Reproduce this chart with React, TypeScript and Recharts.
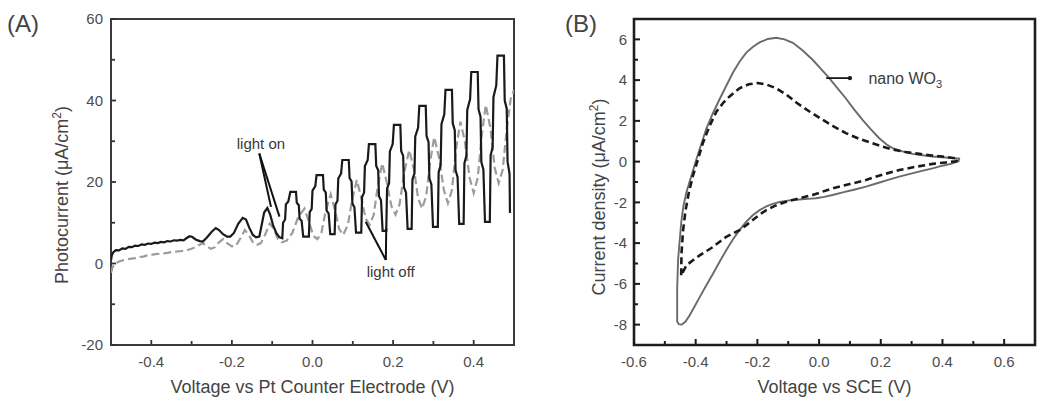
import React from "react";
import {
  LineChart,
  Line,
  XAxis,
  YAxis,
  ReferenceArea,
  ReferenceLine,
  ReferenceDot,
} from "recharts";

type Pt = [number, number];

// (A) chopped-light sweep: voltage (V) vs photocurrent (µA/cm²)
const chopSolid: Pt[] = [
  [-0.5, 0.8], [-0.498, 2.0], [-0.494, 2.8], [-0.488, 3.3], [-0.48, 3.2], [-0.472, 3.7],
  [-0.464, 3.6], [-0.456, 4.1], [-0.448, 4.0], [-0.44, 4.4], [-0.432, 4.3], [-0.424, 4.7],
  [-0.416, 4.6], [-0.408, 4.9], [-0.4, 4.8], [-0.392, 5.1], [-0.384, 5.0], [-0.376, 5.3],
  [-0.368, 5.2], [-0.36, 5.5], [-0.352, 5.4], [-0.344, 5.7], [-0.336, 5.6], [-0.328, 5.8],
  [-0.32, 5.7], [-0.313, 6.2], [-0.305, 6.7], [-0.298, 6.5], [-0.29, 5.9], [-0.28, 5.5],
  [-0.272, 5.4], [-0.262, 6.4], [-0.25, 7.8], [-0.24, 8.7], [-0.232, 8.2], [-0.222, 7.2],
  [-0.212, 6.6], [-0.204, 6.6], [-0.195, 7.5], [-0.184, 9.8], [-0.173, 11.2], [-0.165, 10.8],
  [-0.157, 8.8], [-0.148, 7.0], [-0.14, 6.4], [-0.132, 6.6], [-0.126, 9.5], [-0.12, 12.5],
  [-0.112, 13.6], [-0.105, 12.0], [-0.098, 9.5], [-0.09, 7.5], [-0.082, 6.4], [-0.075, 6.2],
  [-0.073, 10.0], [-0.068, 10.8], [-0.066, 14.5], [-0.06, 15.2], [-0.055, 17.6],
  [-0.041, 17.6], [-0.039, 14.9], [-0.034, 14.3], [-0.032, 11.0], [-0.027, 10.5], [-0.023, 6.6],
  [-0.009, 6.6], [-0.007, 12.6], [-0.002, 13.4], [0.0, 17.9], [0.007, 19.0], [0.01, 21.7],
  [0.026, 21.7], [0.028, 18.1], [0.033, 17.4], [0.035, 13.0], [0.04, 12.3], [0.044, 7.2],
  [0.055, 7.2], [0.057, 14.5], [0.062, 15.4], [0.064, 20.9], [0.071, 22.1], [0.074, 25.4],
  [0.09, 25.4], [0.092, 21.0], [0.097, 20.1], [0.099, 14.7], [0.104, 13.8], [0.108, 7.6],
  [0.121, 7.6], [0.123, 16.3], [0.128, 17.4], [0.13, 23.9], [0.137, 25.4], [0.14, 29.3],
  [0.156, 29.3], [0.158, 24.0], [0.163, 22.9], [0.165, 16.5], [0.17, 15.5], [0.174, 8.0],
  [0.183, 8.0], [0.185, 18.4], [0.19, 19.7], [0.192, 27.5], [0.199, 29.3], [0.202, 34.0],
  [0.218, 34.0], [0.22, 27.6], [0.225, 26.4], [0.227, 18.7], [0.232, 17.4], [0.236, 8.5],
  [0.246, 8.5], [0.248, 20.6], [0.253, 22.1], [0.255, 31.2], [0.262, 33.3], [0.265, 38.7],
  [0.281, 38.7], [0.283, 31.3], [0.288, 29.8], [0.29, 20.9], [0.295, 19.4], [0.299, 9.0],
  [0.311, 9.0], [0.313, 22.4], [0.318, 24.1], [0.32, 34.2], [0.327, 36.6], [0.33, 42.6],
  [0.346, 42.6], [0.348, 34.4], [0.353, 32.7], [0.355, 22.9], [0.36, 21.2], [0.364, 9.7],
  [0.375, 9.7], [0.377, 24.6], [0.382, 26.5], [0.384, 37.7], [0.391, 40.3], [0.394, 47.0],
  [0.41, 47.0], [0.412, 37.8], [0.417, 36.0], [0.419, 24.9], [0.424, 23.1], [0.428, 10.2],
  [0.44, 10.2], [0.442, 26.5], [0.447, 28.6], [0.449, 40.8], [0.456, 43.7], [0.459, 51.0],
  [0.475, 51.0], [0.477, 40.0], [0.482, 38.0], [0.484, 25.0], [0.489, 22.0], [0.49, 12.4],
];

const chopDashed: Pt[] = [
  [-0.5, -2.3], [-0.496, -0.9], [-0.49, 0.0], [-0.48, 0.5], [-0.47, 0.8], [-0.46, 1.0],
  [-0.45, 1.2], [-0.44, 1.3], [-0.43, 1.6], [-0.42, 1.7], [-0.41, 2.0], [-0.4, 2.1],
  [-0.39, 2.3], [-0.38, 2.4], [-0.37, 2.5], [-0.36, 2.6], [-0.35, 2.8], [-0.34, 2.9],
  [-0.33, 3.0], [-0.32, 3.1], [-0.31, 3.3], [-0.3, 3.6], [-0.29, 4.0], [-0.28, 4.6],
  [-0.272, 5.0], [-0.262, 4.2], [-0.252, 3.6], [-0.242, 4.0], [-0.232, 5.2], [-0.222, 6.0],
  [-0.212, 5.0], [-0.2, 4.2], [-0.19, 4.4], [-0.18, 6.0], [-0.168, 8.2], [-0.158, 7.0],
  [-0.148, 5.2], [-0.138, 4.6], [-0.128, 5.0], [-0.118, 7.0], [-0.106, 9.8], [-0.096, 8.5],
  [-0.086, 6.0], [-0.076, 5.2], [-0.064, 5.6], [-0.05, 7.5], [-0.035, 11.5], [-0.02, 13.5],
  [-0.008, 10.0], [0.002, 6.8], [0.012, 6.0], [0.022, 7.5], [0.032, 12.5], [0.045, 17.0],
  [0.056, 13.0], [0.066, 8.5], [0.076, 7.0], [0.088, 9.5], [0.098, 15.5], [0.11, 20.5],
  [0.12, 16.5], [0.132, 11.0], [0.142, 9.5], [0.152, 12.0], [0.162, 19.0], [0.173, 24.6],
  [0.184, 20.0], [0.196, 14.0], [0.206, 12.0], [0.216, 14.5], [0.228, 22.5], [0.24, 27.8],
  [0.252, 23.0], [0.262, 16.0], [0.272, 13.5], [0.282, 16.5], [0.292, 25.0], [0.302, 31.0],
  [0.314, 26.0], [0.326, 18.0], [0.336, 14.8], [0.346, 18.0], [0.356, 28.0], [0.367, 34.8],
  [0.378, 30.0], [0.39, 21.0], [0.4, 17.3], [0.41, 21.0], [0.42, 31.5], [0.43, 38.9],
  [0.442, 33.0], [0.452, 23.5], [0.462, 19.7], [0.472, 23.0], [0.482, 33.0], [0.492, 40.5],
  [0.5, 42.6],
];

// (B) cyclic voltammograms: voltage vs SCE (V) vs current density (µA/cm²)
const cvNano: Pt[] = [
  [-0.46, -6.2], [-0.457, -4.8], [-0.452, -3.9], [-0.447, -3.0], [-0.44, -2.2], [-0.43, -1.5],
  [-0.42, -1.0], [-0.41, -0.5], [-0.398, 0.1], [-0.383, 0.8], [-0.366, 1.6], [-0.345, 2.35],
  [-0.323, 3.05], [-0.3, 3.75], [-0.28, 4.35], [-0.258, 4.9], [-0.236, 5.35], [-0.215, 5.63],
  [-0.193, 5.85], [-0.166, 6.02], [-0.139, 6.08], [-0.112, 6.0], [-0.085, 5.83], [-0.053, 5.45],
  [-0.021, 5.0], [0.006, 4.55], [0.033, 4.1], [0.06, 3.6], [0.087, 3.1], [0.114, 2.55],
  [0.141, 2.05], [0.168, 1.58], [0.195, 1.15], [0.218, 0.85], [0.238, 0.66], [0.27, 0.5],
  [0.303, 0.38], [0.335, 0.31], [0.368, 0.25], [0.41, 0.2], [0.454, 0.15],
  [0.452, 0.02], [0.43, -0.1], [0.4, -0.2], [0.368, -0.33], [0.33, -0.47], [0.295, -0.6],
  [0.26, -0.74], [0.224, -0.9], [0.188, -1.06], [0.152, -1.23], [0.116, -1.37], [0.08, -1.5],
  [0.044, -1.64], [0.017, -1.73], [-0.01, -1.8], [-0.037, -1.83], [-0.064, -1.86], [-0.096, -1.9],
  [-0.128, -1.98], [-0.15, -2.07], [-0.171, -2.2], [-0.193, -2.38], [-0.215, -2.63], [-0.236, -2.95],
  [-0.258, -3.36], [-0.28, -3.83], [-0.301, -4.35], [-0.322, -4.9], [-0.344, -5.5], [-0.366, -6.08],
  [-0.387, -6.65], [-0.405, -7.15], [-0.42, -7.55], [-0.433, -7.85], [-0.445, -8.0], [-0.455, -7.98],
  [-0.46, -7.85], [-0.46, -6.2],
];

const cvDashed: Pt[] = [
  [-0.447, -5.58], [-0.446, -4.5], [-0.441, -3.4], [-0.433, -2.4], [-0.422, -1.5], [-0.409, -0.7],
  [-0.393, 0.1], [-0.377, 0.9], [-0.355, 1.75], [-0.333, 2.45], [-0.31, 2.9], [-0.29, 3.2],
  [-0.258, 3.6], [-0.228, 3.8], [-0.199, 3.86], [-0.17, 3.78], [-0.139, 3.6], [-0.105, 3.28],
  [-0.074, 2.9], [-0.03, 2.45], [0.012, 2.05], [0.05, 1.7], [0.087, 1.4], [0.13, 1.12],
  [0.173, 0.9], [0.205, 0.74], [0.238, 0.6], [0.28, 0.47], [0.325, 0.38], [0.365, 0.3],
  [0.4, 0.25], [0.449, 0.15], [0.445, 0.02], [0.41, -0.04], [0.368, -0.11], [0.315, -0.25],
  [0.26, -0.41], [0.205, -0.64], [0.152, -0.9], [0.1, -1.1], [0.044, -1.31], [0.01, -1.48],
  [-0.021, -1.64], [-0.065, -1.8], [-0.107, -1.97], [-0.14, -2.15], [-0.171, -2.38], [-0.193, -2.6],
  [-0.215, -2.87], [-0.237, -3.13], [-0.258, -3.36], [-0.28, -3.53], [-0.301, -3.69], [-0.322, -3.93],
  [-0.344, -4.19], [-0.366, -4.4], [-0.387, -4.6], [-0.41, -4.85], [-0.43, -5.09], [-0.447, -5.58],
];

const photoXTicks = [-0.4, -0.3, -0.2, -0.1, 0, 0.1, 0.2, 0.3, 0.4];
const photoYTicks = [-20, -10, 0, 10, 20, 30, 40, 50, 60];
const cvXTicks = [-0.6, -0.5, -0.4, -0.3, -0.2, -0.1, 0, 0.1, 0.2, 0.3, 0.4, 0.5, 0.6];
const cvYTicks = [-8, -7, -6, -5, -4, -3, -2, -1, 0, 1, 2, 3, 4, 5, 6];

const FONT = "'Liberation Sans', Arial, Helvetica, sans-serif";
const LABEL = "#4d4d4d";

// plot box edges inside each 402px-high chart
const PLOT_BOTTOM = 345;
const PHOTO_LEFT = 111;
const CV_LEFT = 94;

const toXY = (pts: Pt[]) => pts.map(([x, y]) => ({ x, y }));

const isEvenTenth = (v: number) => Math.round(Math.abs(v) * 10) % 2 === 0;
const isMult20 = (v: number) => Math.round(v) % 20 === 0;
const isEven = (v: number) => Math.round(v) % 2 === 0;

// ticks point inward; only the major ones carry a label
const bottomTick =
  (major: (v: number) => boolean, fmt: (v: number) => string, color: string, w: number, big: number, small: number) =>
  (p: any) => {
    const v = p.payload.value;
    const m = major(v);
    const y = PLOT_BOTTOM;
    return (
      <g>
        <line x1={p.x} x2={p.x} y1={y} y2={y - (m ? big : small)} stroke={color} strokeWidth={w} />
        {m && (
          <text x={p.x} y={y + 21.5} textAnchor="middle" fontSize={15} fontFamily={FONT} fill={LABEL}>
            {fmt(v)}
          </text>
        )}
      </g>
    );
  };

const leftTick =
  (axisX: number, major: (v: number) => boolean, fmt: (v: number) => string, color: string, w: number, big: number, small: number, gap: number) =>
  (p: any) => {
    const v = p.payload.value;
    const m = major(v);
    return (
      <g>
        <line x1={axisX} x2={axisX + (m ? big : small)} y1={p.y} y2={p.y} stroke={color} strokeWidth={w} />
        {m && (
          <text x={axisX - gap} y={p.y + 5.3} textAnchor="end" fontSize={15} fontFamily={FONT} fill={LABEL}>
            {fmt(v)}
          </text>
        )}
      </g>
    );
  };

function NanoLabel(props: any) {
  const vb = props.viewBox || {};
  return (
    <text x={vb.x} y={vb.y + 6} fontSize={16} fontFamily={FONT} fill="#3a3a3a">
      nano WO
      <tspan fontSize={11} dy={4}>3</tspan>
    </text>
  );
}

function PhotoPanel() {
  return (
    <LineChart width={540} height={402} margin={{ top: 19, right: 26, bottom: 27, left: 51 }}>
      <XAxis
        type="number"
        dataKey="x"
        domain={[-0.5, 0.5]}
        allowDataOverflow
        ticks={photoXTicks}
        interval={0}
        height={30}
        axisLine={false}
        tickLine={false}
        tick={bottomTick(isEvenTenth, (v) => v.toFixed(1), "#333", 1.8, 5, 4)}
      />
      <YAxis
        type="number"
        domain={[-20, 60]}
        allowDataOverflow
        ticks={photoYTicks}
        interval={0}
        width={60}
        axisLine={false}
        tickLine={false}
        tick={leftTick(PHOTO_LEFT, isMult20, (v) => String(v), "#333", 1.8, 5, 4, 8)}
      />
      <ReferenceArea x1={-0.5} x2={0.5} y1={-20} y2={60} fill="none" stroke="#3a3a3a" strokeWidth={2} />
      <Line
        data={toXY(chopDashed)}
        dataKey="y"
        type="linear"
        stroke="#9c9c9c"
        strokeWidth={2.2}
        strokeDasharray="8 4"
        dot={false}
        activeDot={false}
        isAnimationActive={false}
      />
      <Line
        data={toXY(chopSolid)}
        dataKey="y"
        type="linear"
        stroke="#1a1a1a"
        strokeWidth={2.2}
        dot={false}
        activeDot={false}
        isAnimationActive={false}
      />
      <ReferenceLine segment={[{ x: -0.132, y: 27 }, { x: -0.103, y: 13.9 }]} stroke="#111" strokeWidth={2} />
      <ReferenceLine segment={[{ x: -0.132, y: 27 }, { x: -0.082, y: 11.5 }]} stroke="#111" strokeWidth={2} />
      <ReferenceLine segment={[{ x: 0.182, y: 0.86 }, { x: 0.132, y: 10.26 }]} stroke="#111" strokeWidth={2} />
      <ReferenceLine segment={[{ x: 0.182, y: 0.86 }, { x: 0.183, y: 8.7 }]} stroke="#111" strokeWidth={2} />
      <ReferenceDot
        x={-0.128}
        y={29.3}
        r={0}
        fill="none"
        stroke="none"
        label={{ value: "light on", position: "center", fontSize: 15, fill: "#3a3a3a", fontFamily: FONT }}
      />
      <ReferenceDot
        x={0.194}
        y={-1.9}
        r={0}
        fill="none"
        stroke="none"
        label={{ value: "light off", position: "center", fontSize: 15, fill: "#3a3a3a", fontFamily: FONT }}
      />
    </LineChart>
  );
}

function CvPanel() {
  return (
    <LineChart width={510} height={402} margin={{ top: 19, right: 15, bottom: 27, left: 44 }}>
      <XAxis
        type="number"
        dataKey="x"
        domain={[-0.6, 0.7]}
        allowDataOverflow
        ticks={cvXTicks}
        interval={0}
        height={30}
        axisLine={false}
        tickLine={false}
        tick={bottomTick(isEvenTenth, (v) => v.toFixed(1), "#1a1a1a", 2, 6, 4)}
      />
      <YAxis
        type="number"
        domain={[-9, 7]}
        allowDataOverflow
        ticks={cvYTicks}
        interval={0}
        width={50}
        axisLine={false}
        tickLine={false}
        tick={leftTick(CV_LEFT, isEven, (v) => String(v), "#1a1a1a", 2, 6, 4, 7)}
      />
      <ReferenceArea x1={-0.6} x2={0.7} y1={-9} y2={7} fill="none" stroke="#1e1e1e" strokeWidth={2.6} />
      <Line
        data={toXY(cvNano)}
        dataKey="y"
        type="linear"
        stroke="#6a6a6a"
        strokeWidth={1.9}
        dot={false}
        activeDot={false}
        isAnimationActive={false}
      />
      <Line
        data={toXY(cvDashed)}
        dataKey="y"
        type="linear"
        stroke="#1a1a1a"
        strokeWidth={2.6}
        strokeDasharray="7 4"
        dot={false}
        activeDot={false}
        isAnimationActive={false}
      />
      <ReferenceLine segment={[{ x: 0.023, y: 4.1 }, { x: 0.105, y: 4.1 }]} stroke="#1a1a1a" strokeWidth={1.8} />
      <ReferenceDot x={0.1} y={4.1} r={2.2} fill="#1a1a1a" stroke="none" />
      <ReferenceDot x={0.16} y={4.1} r={0} fill="none" stroke="none" label={(p: any) => <NanoLabel {...p} />} />
    </LineChart>
  );
}

export default function App() {
  return (
    <div style={{ position: "absolute", left: 0, top: 0, width: 1050, height: 402, background: "#fff" }}>
      <div style={{ position: "absolute", left: 0, top: 0 }}>
        <PhotoPanel />
      </div>
      <div style={{ position: "absolute", left: 540, top: 0 }}>
        <CvPanel />
      </div>
      <svg
        width={1050}
        height={402}
        style={{ position: "absolute", left: 0, top: 0, pointerEvents: "none" }}
        fontFamily={FONT}
      >
        <text x={7} y={31.5} fontSize={24} fill="#444">(A)</text>
        <text x={565} y={31.5} fontSize={24} fill="#444">(B)</text>
        <text x={312.5} y={393} fontSize={18} fill="#444" textAnchor="middle">
          Voltage vs Pt Counter Electrode (V)
        </text>
        <text x={834.5} y={393} fontSize={18} fill="#444" textAnchor="middle">
          Voltage vs SCE (V)
        </text>
        <text x={67.5} y={195} fontSize={18} fill="#444" textAnchor="middle" transform="rotate(-90 67.5 195)">
          Photocurrent (μA/cm<tspan fontSize={12} dy={-7}>2</tspan>
          <tspan dy={7}>)</tspan>
        </text>
        <text x={604.5} y={197} fontSize={18} fill="#444" textAnchor="middle" transform="rotate(-90 604.5 197)">
          Current density (μA/cm<tspan fontSize={12} dy={-7}>2</tspan>
          <tspan dy={7}>)</tspan>
        </text>
      </svg>
    </div>
  );
}
